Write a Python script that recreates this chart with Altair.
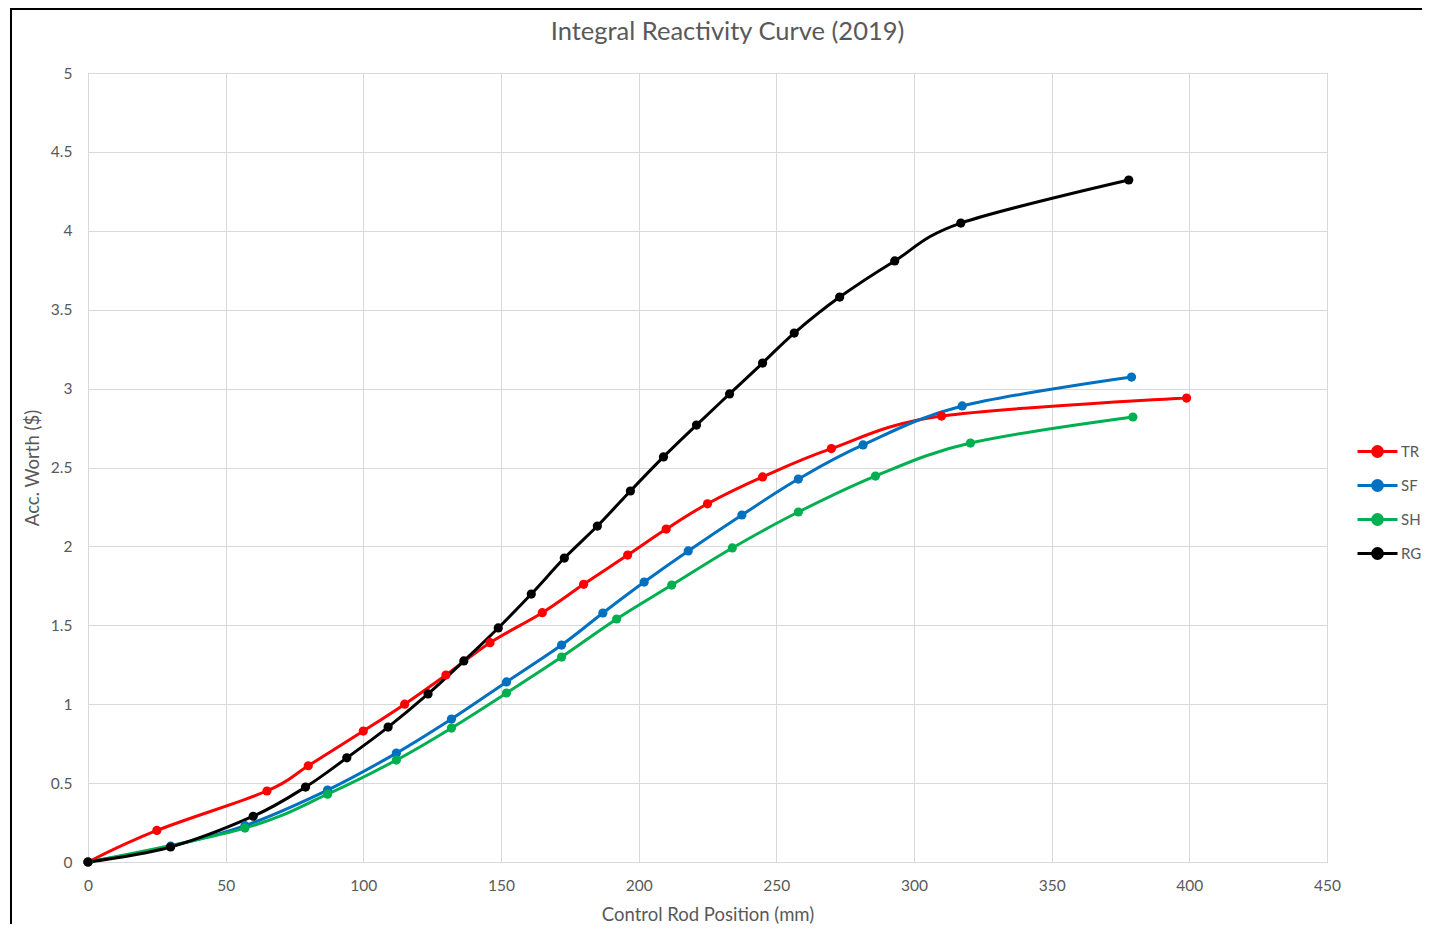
import altair as alt
import pandas as pd

chart_title = "Integral Reactivity Curve (2019)"
series_names = ["TR", "SF", "SH", "RG"]
series_colors = ["#FF0000", "#0070C0", "#00B050", "#000000"]

TR_x = [0, 25, 65, 80, 100, 115, 130, 146, 165, 180, 196, 210, 225, 245, 270, 310, 399]
TR_y = [0, 0.20, 0.45, 0.61, 0.83, 1.00, 1.185, 1.39, 1.58, 1.76, 1.945, 2.11, 2.27, 2.44, 2.62, 2.826, 2.94]

SF_x = [0, 30, 57, 87, 112, 132, 152, 172, 187, 202, 218, 237.5, 258, 281.5, 317.5, 379]
SF_y = [0, 0.10, 0.23, 0.456, 0.69, 0.906, 1.141, 1.375, 1.578, 1.774, 1.971, 2.199, 2.427, 2.643, 2.89, 3.073]

SH_x = [0, 57, 87, 112, 132, 152, 172, 192, 212, 234, 258, 286, 320.5, 379.5]
SH_y = [0, 0.215, 0.43, 0.646, 0.849, 1.071, 1.299, 1.54, 1.755, 1.99, 2.218, 2.446, 2.655, 2.82]

RG_x = [0, 30, 60, 79, 94, 109, 123.5, 136.5, 149, 161, 173, 185, 197, 209, 221, 233, 245, 256.5, 273, 293, 317, 378]
RG_y = [0, 0.095, 0.29, 0.475, 0.66, 0.855, 1.065, 1.274, 1.483, 1.698, 1.926, 2.129, 2.351, 2.567, 2.769, 2.966, 3.162, 3.352, 3.58, 3.809, 4.049, 4.322]

rows = []
for name, xs, ys in [("TR", TR_x, TR_y), ("SF", SF_x, SF_y), ("SH", SH_x, SH_y), ("RG", RG_x, RG_y)]:
    for i, (x, y) in enumerate(zip(xs, ys)):
        rows.append({"series": name, "pos": x, "worth": y, "idx": i, "ord": series_names.index(name)})
df = pd.DataFrame(rows)

W, H = 1239, 789
FONT = "Lato"
GRAY = "#595959"

legend_symbol = (
    "M-1,0 L1,0 "
    "M-0.25,0 A0.25,0.25 0 1,1 0.25,0 A0.25,0.25 0 1,1 -0.25,0 "
    "M-0.16,0 A0.16,0.16 0 1,1 0.16,0 A0.16,0.16 0 1,1 -0.16,0 "
    "M-0.08,0 A0.08,0.08 0 1,1 0.08,0 A0.08,0.08 0 1,1 -0.08,0"
)

color = alt.Color(
    "series:N",
    scale=alt.Scale(domain=series_names, range=series_colors),
    sort=series_names,
    legend=alt.Legend(
        title=None,
        orient="none",
        legendX=1268,
        legendY=357,
        symbolType=legend_symbol,
        symbolSize=1600,
        symbolStrokeWidth=2.8,
        labelFontSize=15,
        labelFont=FONT,
        labelColor=GRAY,
        labelOffset=2,
        rowPadding=1,
    ),
)

x_enc = alt.X(
    "pos:Q",
    scale=alt.Scale(domain=[0, 450], nice=False),
    axis=alt.Axis(
        title="Control Rod Position (mm)",
        values=list(range(0, 451, 50)),
        ticks=False,
        domain=False,
        grid=True,
        gridColor="#d9d9d9",
        labelFlush=False,
        labelPadding=16,
        labelFontSize=15.5,
        labelColor=GRAY,
        labelFont=FONT,
        titleFont=FONT,
        titleFontSize=18.5,
        titleFontWeight="normal",
        titleColor=GRAY,
        titlePadding=12,
    ),
)
y_enc = alt.Y(
    "worth:Q",
    scale=alt.Scale(domain=[0, 5], nice=False),
    axis=alt.Axis(
        title="Acc. Worth ($)",
        values=[0, 0.5, 1, 1.5, 2, 2.5, 3, 3.5, 4, 4.5, 5],
        format="~g",
        ticks=False,
        domain=False,
        grid=True,
        gridColor="#d9d9d9",
        labelFlush=False,
        labelPadding=16,
        labelFontSize=15.5,
        labelColor=GRAY,
        labelFont=FONT,
        titleFont=FONT,
        titleFontSize=18.5,
        titleFontWeight="normal",
        titleColor=GRAY,
        titlePadding=8,
    ),
)

lines = alt.Chart(df).mark_line(interpolate="cardinal", strokeWidth=3).encode(
    x=x_enc, y=y_enc, color=color, order="idx:Q", detail="series:N"
)
points = alt.Chart(df).mark_circle(size=85, opacity=1).encode(
    x="pos:Q", y="worth:Q",
    color=alt.Color("series:N", scale=alt.Scale(domain=series_names, range=series_colors), legend=None),
    order="ord:Q",
)

frame = alt.Chart(pd.DataFrame({"k": [0]})).mark_rect(
    fill=None, stroke="#000000", strokeWidth=2, clip=False
).encode(
    x=alt.value(-77), x2=alt.value(W + 300), y=alt.value(-64), y2=alt.value(H + 300)
)

title_mark = alt.Chart(pd.DataFrame({"t": [chart_title]})).mark_text(
    font=FONT, fontSize=25.5, color=GRAY, align="center", baseline="middle", clip=False
).encode(
    text="t:N", x=alt.value(W / 2 + 20), y=alt.value(-41)
)

chart = alt.layer(frame, lines, points, title_mark).properties(
    width=W,
    height=H,
    autosize=alt.AutoSizeParams(type="none"),
    padding={"left": 80, "top": 65, "right": 95, "bottom": 62},
).configure_view(stroke=None).configure(background="white")

chart.save("out.html", embed_options={"renderer": "svg", "actions": False})
